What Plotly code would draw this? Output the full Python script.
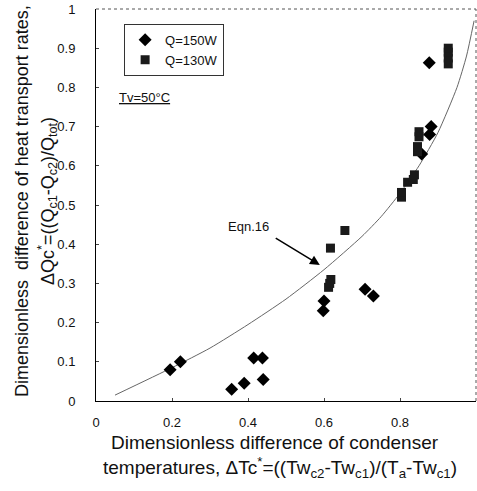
import plotly.graph_objects as go

# ---- data ----
q150_x = [0.195, 0.222, 0.357, 0.390, 0.415, 0.438, 0.440, 0.598, 0.600, 0.708, 0.730, 0.857, 0.878, 0.882, 0.877]
q150_y = [0.080, 0.100, 0.030, 0.045, 0.110, 0.110, 0.055, 0.230, 0.255, 0.285, 0.268, 0.630, 0.680, 0.700, 0.863]

q130_x = [0.612, 0.615, 0.618, 0.617, 0.655, 0.804, 0.804, 0.820, 0.835, 0.838, 0.846, 0.846, 0.850, 0.850, 0.927, 0.927, 0.927, 0.927]
q130_y = [0.290, 0.300, 0.310, 0.390, 0.435, 0.520, 0.532, 0.558, 0.565, 0.577, 0.636, 0.649, 0.674, 0.687, 0.860, 0.875, 0.890, 0.900]

eqn_x = [0.05, 0.20, 0.30, 0.40, 0.50, 0.60, 0.70, 0.75, 0.80, 0.85, 0.90, 0.95, 0.975, 0.995]
eqn_y = [0.015, 0.085, 0.135, 0.195, 0.260, 0.335, 0.420, 0.470, 0.530, 0.600, 0.685, 0.800, 0.880, 0.970]

x_ticks = [0, 0.2, 0.4, 0.6, 0.8, 1]
x_ticktext = ["0", "0.2", "0.4", "0.6", "0.8", "1"]
y_ticks = [0, 0.1, 0.2, 0.3, 0.4, 0.5, 0.6, 0.7, 0.8, 0.9, 1]
y_ticktext = ["0", "0.1", "0.2", "0.3", "0.4", "0.5", "0.6", "0.7", "0.8", "0.9", "1"]

FONT = "Arial, Liberation Sans, sans-serif"
INK = "#111111"

fig = go.Figure()
fig.add_trace(go.Scatter(x=eqn_x, y=eqn_y, mode="lines", line=dict(color="#666666", width=1, shape="spline", smoothing=0.6),
                         showlegend=False, hoverinfo="skip"))
fig.add_trace(go.Scatter(x=q150_x, y=q150_y, mode="markers", name="Q=150W",
                         marker=dict(symbol="diamond", size=10, color="#000000")))
fig.add_trace(go.Scatter(x=q130_x, y=q130_y, mode="markers", name="Q=130W",
                         marker=dict(symbol="square", size=9, color="#1a1a1a")))

W, H = 477, 491
L, R, T, B = 96, 1, 9, 90

fig.update_layout(
    width=W, height=H,
    margin=dict(l=L, r=R, t=T, b=B),
    paper_bgcolor="white", plot_bgcolor="white",
    font=dict(family=FONT, size=13, color=INK),
    showlegend=True,
    legend=dict(x=0.074, y=0.962, xanchor="left", yanchor="top",
                bgcolor="white", bordercolor="#333333", borderwidth=1,
                font=dict(size=13, color=INK), itemwidth=30, tracegroupgap=2),
    xaxis=dict(range=[0, 1], tickvals=x_ticks, ticktext=x_ticktext, showgrid=False, zeroline=False,
               showline=True, linecolor="#000000", linewidth=1, ticks="inside", ticklen=3,
               tickcolor="#444444", tickfont=dict(size=13, color=INK), ticklabelstandoff=9),
    yaxis=dict(range=[0, 1], tickvals=y_ticks, ticktext=y_ticktext, showgrid=False, zeroline=False,
               showline=True, linecolor="#000000", linewidth=1, ticks="inside", ticklen=3,
               tickcolor="#444444", tickfont=dict(size=13, color=INK), ticklabelstandoff=17),
)

# dotted top/right frame
fig.add_shape(type="line", xref="paper", yref="paper", x0=0, x1=1, y0=1, y1=1,
              line=dict(color="#555555", width=1, dash="dot"))
fig.add_shape(type="line", xref="paper", yref="paper", x0=1, x1=1, y0=0, y1=1,
              line=dict(color="#555555", width=1, dash="dot"))

# text annotations
fig.add_annotation(x=0.055, y=0.773, xref="paper", yref="paper", text="<u>Tv=50°C</u>",
                   showarrow=False, xanchor="left", yanchor="middle", font=dict(size=13, color=INK))
fig.add_annotation(x=0.40, y=0.444, xref="x", yref="y", text="Eqn.16", showarrow=False,
                   font=dict(size=13, color=INK))
fig.add_annotation(x=0.589, y=0.347, xref="x", yref="y", ax=0.469, ay=0.418, axref="x", ayref="y",
                   text="", showarrow=True, arrowhead=2, arrowsize=1.3, arrowwidth=1.5, arrowcolor="#000000")

# x axis title (two lines)
fig.add_annotation(x=0.5, y=0, xref="paper", yref="paper", yshift=-41, xshift=-11,
                   text="Dimensionless difference of condenser", showarrow=False,
                   xanchor="center", yanchor="middle", font=dict(size=19, color=INK))
fig.add_annotation(x=0.5, y=0, xref="paper", yref="paper", yshift=-66, xshift=-6,
                   text="temperatures, ΔTc<sup>*</sup>=((Tw<sub>c2</sub>-Tw<sub>c1</sub>)/(T<sub>a</sub>-Tw<sub>c1</sub>)",
                   showarrow=False, xanchor="center", yanchor="middle", font=dict(size=19, color=INK))

# y axis title (two lines, rotated)
fig.add_annotation(x=0, y=0.5, xref="paper", yref="paper", xshift=-74, yshift=4,
                   text="Dimensionless  difference of heat transport rates,", textangle=-90,
                   showarrow=False, xanchor="center", yanchor="middle", font=dict(size=18, color=INK))
fig.add_annotation(x=0, y=0.5, xref="paper", yref="paper", xshift=-49, yshift=4,
                   text="ΔQc<sup>*</sup>=((Q<sub>c1</sub>-Q<sub>c2</sub>)/Q<sub>tot</sub>)", textangle=-90,
                   showarrow=False, xanchor="center", yanchor="middle", font=dict(size=18, color=INK))

fig.write_html("out.html")
